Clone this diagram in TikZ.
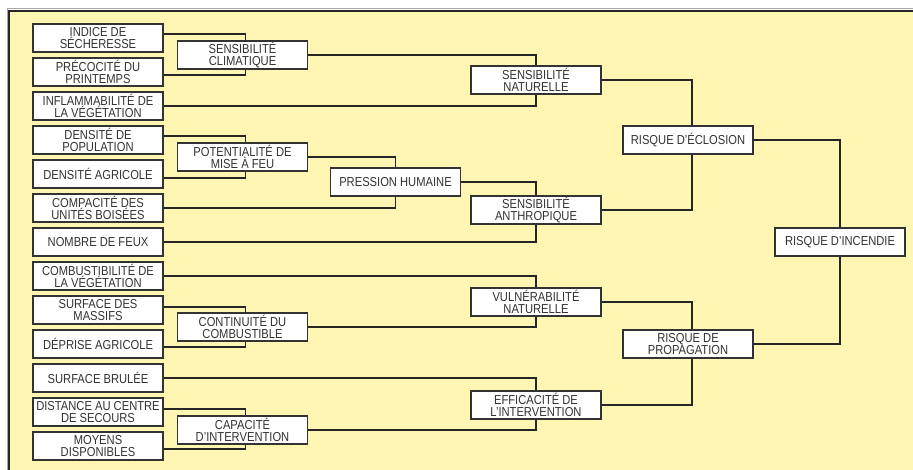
\documentclass[tikz,border=0pt]{standalone}
\usepackage{fontspec}
\setmainfont[FakeStretch=0.86]{Liberation Sans}
\usepackage{xcolor}
\usepackage{tikz}
\usetikzlibrary{positioning}

\definecolor{fondjaune}{HTML}{FFF6B4}
\definecolor{traitgris}{HTML}{333333}

\begin{document}
\begin{tikzpicture}[x=1pt, y=-1pt, node distance=34pt,
    bloc/.style={draw=traitgris, line width=1.1pt, fill=white, text=traitgris,
        minimum width=130pt, minimum height=28pt, inner sep=0pt, align=center,
        font=\fontsize{13}{11.5}\selectfont},
    lien/.style={draw=black!85, line width=1.9pt},
    coude/.style={to path={-| (\tikztotarget)}}]
    % Frame
    \useasboundingbox (0,0) rectangle (913,470);
    \fill[fondjaune] (9,11) rectangle (913,470);
    \draw[gray!70, line width=1pt] (7,470) -- (7,9) -- (913,9);
    \draw[black!85, line width=2pt] (9,470) -- (9,11) -- (913,11);

    % Indicators
    \node[bloc] (indice) at (98,38) {INDICE DE\\SÉCHERESSE};
    \node[bloc, below of=indice] (precocite) {PRÉCOCITÉ DU\\PRINTEMPS};
    \node[bloc, below of=precocite] (inflamm) {INFLAMMABILITÉ DE\\LA VÉGÉTATION};
    \node[bloc, below of=inflamm] (denspop) {DENSITÉ DE\\POPULATION};
    \node[bloc, below of=denspop] (densagri) {DENSITÉ AGRICOLE};
    \node[bloc, below of=densagri] (compacite) {COMPACITÉ DES\\UNITÉS BOISÉES};
    \node[bloc, below of=compacite] (nbfeux) {NOMBRE DE FEUX};
    \node[bloc, below of=nbfeux] (combust) {COMBUSTIBILITÉ DE\\LA VÉGÉTATION};
    \node[bloc, below of=combust] (massifs) {SURFACE DES\\MASSIFS};
    \node[bloc, below of=massifs] (deprise) {DÉPRISE AGRICOLE};
    \node[bloc, below of=deprise] (brulee) {SURFACE BRULÉE};
    \node[bloc, below of=brulee] (distance) {DISTANCE AU CENTRE\\DE SECOURS};
    \node[bloc, below of=distance] (moyens) {MOYENS\\DISPONIBLES};

    % Aggregates
    \node[bloc] (sclim) at (242.5,55) {SENSIBILITÉ\\CLIMATIQUE};
    \node[bloc] (potentiel) at (242.5,157) {POTENTIALITÉ DE\\MISE À FEU};
    \node[bloc] (continuite) at (242.5,327) {CONTINUITÉ DU\\COMBUSTIBLE};
    \node[bloc] (capacite) at (242.5,430) {CAPACITÉ\\D’INTERVENTION};
    \node[bloc] (pression) at (395.5,182) {PRESSION HUMAINE};
    \node[bloc] (snat) at (536,80) {SENSIBILITÉ\\NATURELLE};
    \node[bloc] (santh) at (536,210) {SENSIBILITÉ\\ANTHROPIQUE};
    \node[bloc] (vulnat) at (536,302) {VULNÉRABILITÉ\\NATURELLE};
    \node[bloc] (efficacite) at (536,405) {EFFICACITÉ DE\\L’INTERVENTION};
    \node[bloc] (eclosion) at (688,140) {RISQUE D’ÉCLOSION};
    \node[bloc] (propagation) at (688,344) {RISQUE DE\\PROPAGATION};
    \node[bloc] (incendie) at (840,242) {RISQUE D’INCENDIE};

    % Links
    \path[lien]
        ([yshift=4pt]indice.east) edge[coude] ([xshift=3pt]sclim.north)
        ([yshift=-3pt]precocite.east) edge[coude] ([xshift=3pt]sclim.south)
        ([yshift=4pt]denspop.east) edge[coude] ([xshift=3pt]potentiel.north)
        ([yshift=-4pt]densagri.east) edge[coude] ([xshift=3pt]potentiel.south)
        ([yshift=3pt]massifs.east) edge[coude] ([xshift=3pt]continuite.north)
        ([yshift=-3pt]deprise.east) edge[coude] ([xshift=3pt]continuite.south)
        ([yshift=3pt]distance.east) edge[coude] ([xshift=3pt]capacite.north)
        ([yshift=-3pt]moyens.east) edge[coude] ([xshift=3pt]capacite.south)
        (sclim.east) edge[coude] (snat.north)
        (inflamm.east) edge[coude] (snat.south)
        (potentiel.east) edge[coude] (pression.north)
        (compacite.east) edge[coude] (pression.south)
        (pression.east) edge[coude] (santh.north)
        (nbfeux.east) edge[coude] (santh.south)
        (combust.east) edge[coude] (vulnat.north)
        (continuite.east) edge[coude] (vulnat.south)
        (brulee.east) edge[coude] (efficacite.north)
        (capacite.east) edge[coude] (efficacite.south)
        (snat.east) edge[coude] ([xshift=4pt]eclosion.north)
        (santh.east) edge[coude] ([xshift=4pt]eclosion.south)
        (vulnat.east) edge[coude] ([xshift=4pt]propagation.north)
        (efficacite.east) edge[coude] ([xshift=4pt]propagation.south)
        (eclosion.east) edge[coude] (incendie.north)
        (propagation.east) edge[coude] (incendie.south);
\end{tikzpicture}
\end{document}
